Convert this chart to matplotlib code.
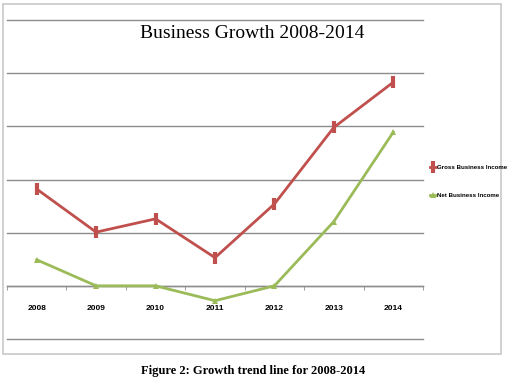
import matplotlib
matplotlib.use("Agg")
import matplotlib.pyplot as plt
from matplotlib.patches import Rectangle
from matplotlib.ticker import FixedLocator

years = ["2008", "2009", "2010", "2011", "2012", "2013", "2014"]
gross = [1.82, 1.01, 1.26, 0.53, 1.54, 2.98, 3.83]
net = [0.49, 0.0, 0.0, -0.28, 0.0, 1.21, 2.89]
series_names = ["Gross Business Income", "Net Business Income"]
title = "Business Growth 2008-2014"
caption = "Figure 2: Growth trend line for 2008-2014"

narrow = ["Liberation Sans Narrow", "Liberation Sans"]

W, H = 520, 384
fig = plt.figure(figsize=(W / 100, H / 100), dpi=100)

fig.patches.append(Rectangle((3 / W, 1 - 354 / H), 498 / W, 350 / H,
                             transform=fig.transFigure, fill=False,
                             edgecolor="#c8c8c8", linewidth=1.2))

ax = fig.add_axes([7 / W, 1 - 339 / H, 416 / W, 319 / H])
x = list(range(len(years)))

red = "#c0504d"
green = "#9bbb59"
ax.plot(x, gross, color=red, linewidth=2.0, marker="|", markersize=8,
        markeredgewidth=3, label=series_names[0], zorder=3)
ax.plot(x, net, color=green, linewidth=2.0, marker="^", markersize=5,
        markeredgewidth=0, label=series_names[1], zorder=3)

ax.set_xlim(-0.5, len(years) - 0.5)
ax.set_ylim(-1, 5)
ax.set_yticks(range(-1, 6))
ax.yaxis.grid(True, color="#8c8c8c", linewidth=1.0)
for gl in ax.yaxis.get_gridlines():
    gl.set_clip_on(False)
ax.tick_params(axis="y", length=0, labelleft=False)
for s in ["left", "right", "top"]:
    ax.spines[s].set_visible(False)
ax.spines["bottom"].set_position(("data", 0))
ax.spines["bottom"].set_color("#8c8c8c")
ax.spines["bottom"].set_linewidth(1.0)
ax.set_axisbelow(True)

ax.set_xticks(x)
ax.set_xticklabels(years, fontsize=6, fontweight="bold", family=narrow)
ax.tick_params(axis="x", which="major", length=0, pad=14)
ax.xaxis.set_minor_locator(FixedLocator([i + 0.5 for i in range(-1, len(years))]))
ax.tick_params(axis="x", which="minor", length=3, color="#8c8c8c", direction="out")

fig.text(252 / W, 1 - 33 / H, title, ha="center", va="center",
         fontsize=14, family="Liberation Serif")

leg = fig.legend(loc="upper left", bbox_to_anchor=(424 / W, 1 - 159 / H),
                 frameon=False, handlelength=1.1,
                 handletextpad=0.2, labelspacing=3.7,
                 prop={"size": 4.4, "weight": "bold", "family": narrow})

fig.text(253 / W, 1 - 371 / H, caption, ha="center", va="center",
         fontsize=9, fontweight="bold", family="Liberation Serif")

fig.savefig("out.png", dpi=100)
